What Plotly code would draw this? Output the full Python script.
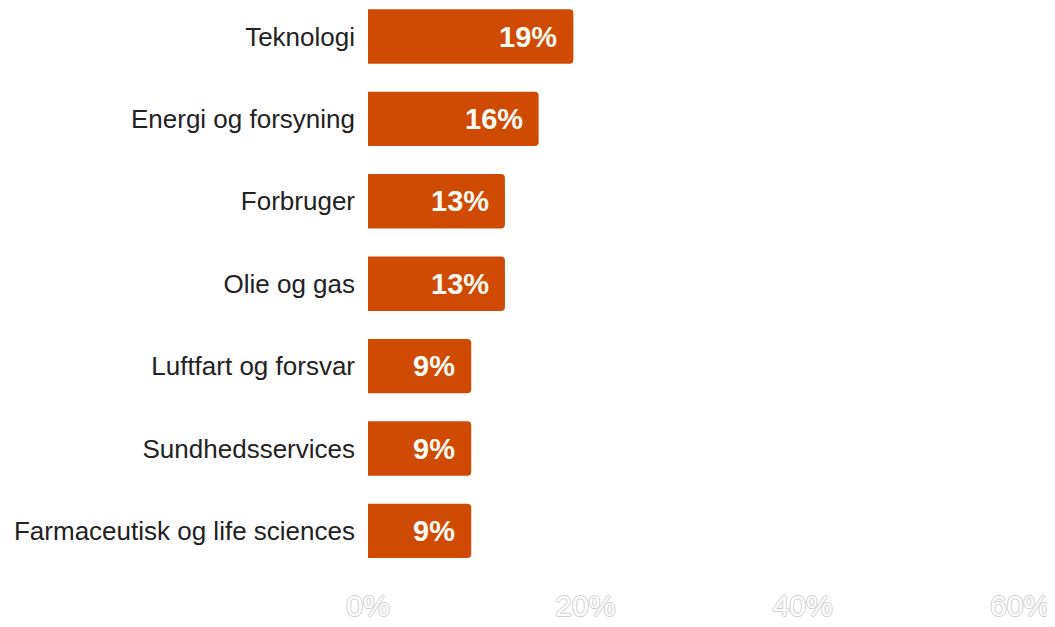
import plotly.graph_objects as go

categories = ["Teknologi", "Energi og forsyning", "Forbruger", "Olie og gas",
              "Luftfart og forsvar", "Sundhedsservices", "Farmaceutisk og life sciences"]
values = [18.9, 15.7, 12.6, 12.6, 9.5, 9.5, 9.5]
labels = ["19%", "16%", "13%", "13%", "9%", "9%", "9%"]
x_ticks = [0, 20, 40, 60]
x_tick_text = ["0%", "20%", "40%", "60%"]

bar_color = "#CF4A02"

fig = go.Figure()
fig.add_trace(go.Bar(
    x=values, y=categories, orientation="h",
    marker=dict(color=bar_color, line=dict(width=0)),
    width=0.66,
    hoverinfo="skip",
))

for c, v, t in zip(categories, values, labels):
    fig.add_annotation(
        x=v, y=c, text=t, showarrow=False, xanchor="right", xshift=-14,
        font=dict(family="Liberation Sans, Arial", size=29, color="#FFFBF2", weight="bold"),
    )

fig.update_layout(
    width=1047, height=619,
    margin=dict(l=360, r=35, t=0, b=52, autoexpand=False),
    paper_bgcolor="white", plot_bgcolor="white",
    barcornerradius=4,
    showlegend=False,
    font=dict(family="Liberation Sans, Arial", color="#222222"),
)
fig.update_xaxes(
    range=[0, 60], tickvals=x_ticks, ticktext=x_tick_text,
    showgrid=False, zeroline=False, showline=False,
    ticklabelstandoff=10,
    tickfont=dict(family="Liberation Sans, Arial", size=30, color="white",
                  shadow="1px 0 0 #cfcfcf, -1px 0 0 #cfcfcf, 0 1px 0 #cfcfcf, 0 -1px 0 #cfcfcf"),
)
fig.update_yaxes(
    range=[6.535, -0.346], showgrid=False, zeroline=False, showline=False,
    tickfont=dict(family="Liberation Sans, Arial", size=26, color="#222222"),
    ticklabelstandoff=12,
)

fig.write_html("out.html")
